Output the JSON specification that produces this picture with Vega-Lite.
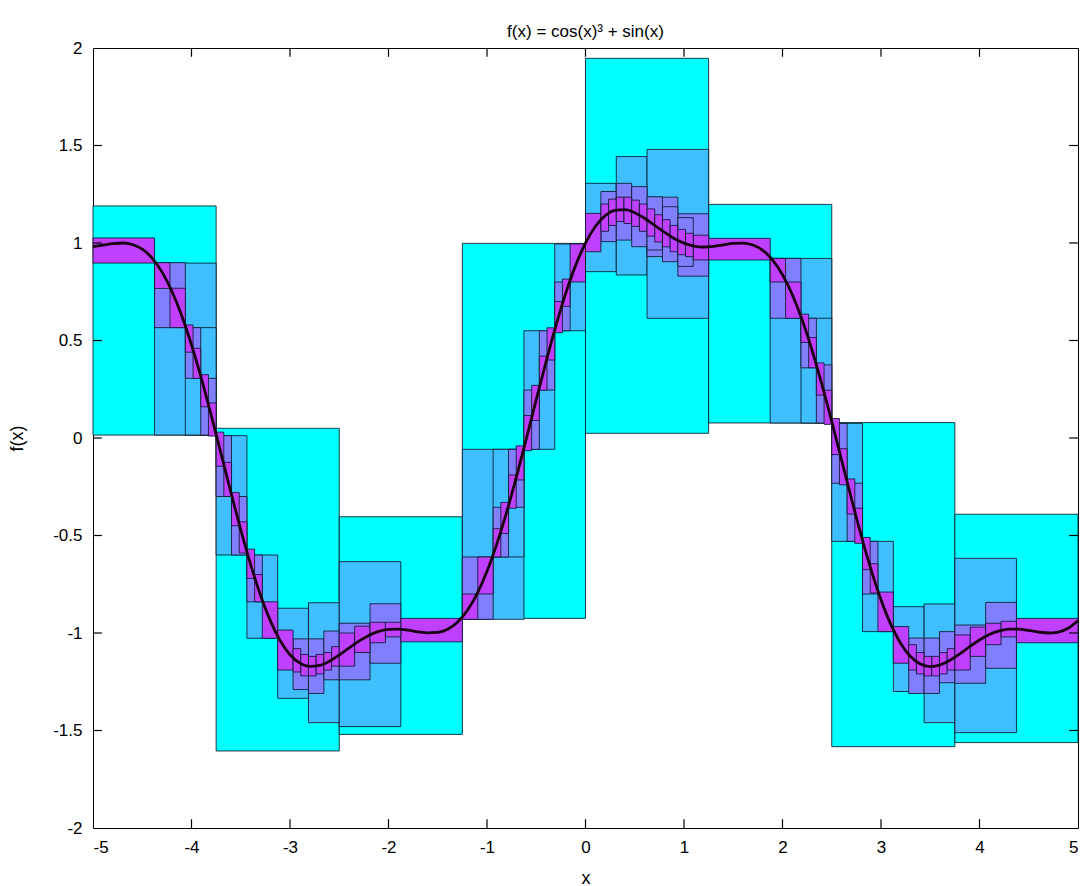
{
  "$schema": "https://vega.github.io/schema/vega-lite/v6.json",
  "width": 985,
  "height": 780,
  "autosize": {"type": "none"},
  "padding": {"left": 93, "top": 48, "right": 10, "bottom": 58},
  "background": "white",
  "title": {"text": "f(x) = cos(x)³ + sin(x)", "fontSize": 17, "fontWeight": "normal", "font": "Liberation Sans", "color": "black", "offset": -2},
  "config": {
    "view": {"stroke": "black", "strokeWidth": 1},
    "axis": {"grid": false, "domain": false, "ticks": false, "labelFont": "Liberation Sans", "titleFont": "Liberation Sans", "labelFontSize": 17, "titleFontSize": 18, "titleFontWeight": "normal", "labelColor": "black", "titleColor": "black", "tickSize": 8, "offset": -8}
  },
  "datasets": {
    "xticks": [{"t": -4}, {"t": -3}, {"t": -2}, {"t": -1}, {"t": 0}, {"t": 1}, {"t": 2}, {"t": 3}, {"t": 4}],
    "yticks": [{"t": -1.5}, {"t": -1}, {"t": -0.5}, {"t": 0}, {"t": 0.5}, {"t": 1}, {"t": 1.5}],
    "boxes": [
      {"x1": -5, "x2": -3.75, "y1": 0.015, "y2": 1.19, "c": "1"},
      {"x1": -3.75, "x2": -2.5, "y1": -1.605, "y2": 0.05, "c": "1"},
      {"x1": -2.5, "x2": -1.25, "y1": -1.52, "y2": -0.404, "c": "1"},
      {"x1": -1.25, "x2": 0, "y1": -0.925, "y2": 0.998, "c": "1"},
      {"x1": 0, "x2": 1.25, "y1": 0.024, "y2": 1.947, "c": "1"},
      {"x1": 1.25, "x2": 2.5, "y1": 0.077, "y2": 1.198, "c": "1"},
      {"x1": 2.5, "x2": 3.75, "y1": -1.583, "y2": 0.079, "c": "1"},
      {"x1": 3.75, "x2": 5, "y1": -1.562, "y2": -0.391, "c": "1"},

      {"x1": -4.375, "x2": -3.75, "y1": 0.015, "y2": 0.897, "c": "2"},
      {"x1": -4.0625, "x2": -3.75, "y1": 0.015, "y2": 0.566, "c": "2"},
      {"x1": -3.75, "x2": -3.4375, "y1": -0.6, "y2": 0.012, "c": "2"},
      {"x1": -3.4375, "x2": -3.125, "y1": -1.027, "y2": -0.6, "c": "2"},
      {"x1": -3.125, "x2": -2.8125, "y1": -1.335, "y2": -0.873, "c": "2"},
      {"x1": -2.8125, "x2": -2.5, "y1": -1.46, "y2": -0.845, "c": "2"},
      {"x1": -2.5, "x2": -1.875, "y1": -1.48, "y2": -0.634, "c": "2"},
      {"x1": -1.25, "x2": -0.625, "y1": -0.93, "y2": -0.058, "c": "2"},
      {"x1": -0.9375, "x2": -0.625, "y1": -0.61, "y2": -0.058, "c": "2"},
      {"x1": -0.625, "x2": -0.3125, "y1": -0.058, "y2": 0.55, "c": "2"},
      {"x1": -0.3125, "x2": 0, "y1": 0.55, "y2": 0.995, "c": "2"},
      {"x1": 0, "x2": 0.3125, "y1": 0.853, "y2": 1.306, "c": "2"},
      {"x1": 0.3125, "x2": 0.625, "y1": 0.836, "y2": 1.443, "c": "2"},
      {"x1": 0.625, "x2": 1.25, "y1": 0.614, "y2": 1.48, "c": "2"},
      {"x1": 1.875, "x2": 2.5, "y1": 0.077, "y2": 0.921, "c": "2"},
      {"x1": 2.1875, "x2": 2.5, "y1": 0.077, "y2": 0.614, "c": "2"},
      {"x1": 2.5, "x2": 2.8125, "y1": -0.53, "y2": 0.075, "c": "2"},
      {"x1": 2.8125, "x2": 3.125, "y1": -0.993, "y2": -0.53, "c": "2"},
      {"x1": 3.125, "x2": 3.4375, "y1": -1.3, "y2": -0.865, "c": "2"},
      {"x1": 3.4375, "x2": 3.75, "y1": -1.46, "y2": -0.851, "c": "2"},
      {"x1": 3.75, "x2": 4.375, "y1": -1.511, "y2": -0.617, "c": "2"},

      {"x1": -4.375, "x2": -4.0625, "y1": 0.566, "y2": 0.899, "c": "3"},
      {"x1": -4.0625, "x2": -3.90625, "y1": 0.306, "y2": 0.566, "c": "3"},
      {"x1": -3.90625, "x2": -3.75, "y1": 0.015, "y2": 0.306, "c": "3"},
      {"x1": -3.75, "x2": -3.59375, "y1": -0.3, "y2": 0.012, "c": "3"},
      {"x1": -3.59375, "x2": -3.4375, "y1": -0.6, "y2": -0.3, "c": "3"},
      {"x1": -3.4375, "x2": -3.28125, "y1": -0.84, "y2": -0.6, "c": "3"},
      {"x1": -2.96875, "x2": -2.8125, "y1": -1.29, "y2": -1.03, "c": "3"},
      {"x1": -2.8125, "x2": -2.65625, "y1": -1.31, "y2": -1.03, "c": "3"},
      {"x1": -2.65625, "x2": -2.5, "y1": -1.24, "y2": -0.99, "c": "3"},
      {"x1": -2.5, "x2": -2.1875, "y1": -1.24, "y2": -0.95, "c": "3"},
      {"x1": -2.1875, "x2": -1.875, "y1": -1.155, "y2": -0.85, "c": "3"},
      {"x1": -1.25, "x2": -0.9375, "y1": -0.93, "y2": -0.61, "c": "3"},
      {"x1": -0.9375, "x2": -0.78125, "y1": -0.61, "y2": -0.355, "c": "3"},
      {"x1": -0.78125, "x2": -0.625, "y1": -0.355, "y2": -0.058, "c": "3"},
      {"x1": -0.625, "x2": -0.46875, "y1": -0.058, "y2": 0.246, "c": "3"},
      {"x1": -0.46875, "x2": -0.3125, "y1": 0.246, "y2": 0.55, "c": "3"},
      {"x1": -0.3125, "x2": -0.15625, "y1": 0.55, "y2": 0.8, "c": "3"},
      {"x1": 0.625, "x2": 0.9375, "y1": 0.93, "y2": 1.235, "c": "3"},
      {"x1": 0.9375, "x2": 1.25, "y1": 0.83, "y2": 1.15, "c": "3"},
      {"x1": 0.15625, "x2": 0.3125, "y1": 1.007, "y2": 1.264, "c": "3"},
      {"x1": 0.3125, "x2": 0.46875, "y1": 1.015, "y2": 1.306, "c": "3"},
      {"x1": 0.46875, "x2": 0.625, "y1": 0.981, "y2": 1.289, "c": "3"},
      {"x1": 0.625, "x2": 0.78125, "y1": 0.964, "y2": 1.237, "c": "3"},
      {"x1": 0.78125, "x2": 0.9375, "y1": 0.904, "y2": 1.186, "c": "3"},
      {"x1": 0.9375, "x2": 1.09375, "y1": 0.88, "y2": 1.13, "c": "3"},
      {"x1": 1.875, "x2": 2.1875, "y1": 0.614, "y2": 0.921, "c": "3"},
      {"x1": 2.1875, "x2": 2.34375, "y1": 0.36, "y2": 0.614, "c": "3"},
      {"x1": 2.34375, "x2": 2.5, "y1": 0.077, "y2": 0.375, "c": "3"},
      {"x1": 2.5, "x2": 2.65625, "y1": -0.232, "y2": 0.075, "c": "3"},
      {"x1": 2.65625, "x2": 2.8125, "y1": -0.53, "y2": -0.232, "c": "3"},
      {"x1": 2.8125, "x2": 2.96875, "y1": -0.8, "y2": -0.53, "c": "3"},
      {"x1": 3.28125, "x2": 3.4375, "y1": -1.31, "y2": -1.026, "c": "3"},
      {"x1": 3.4375, "x2": 3.59375, "y1": -1.31, "y2": -1.026, "c": "3"},
      {"x1": 3.59375, "x2": 3.75, "y1": -1.255, "y2": -0.993, "c": "3"},
      {"x1": 3.75, "x2": 4.0625, "y1": -1.258, "y2": -0.959, "c": "3"},
      {"x1": 4.0625, "x2": 4.375, "y1": -1.181, "y2": -0.843, "c": "3"},

      {"x1": -5, "x2": -4.375, "y1": 0.897, "y2": 1.026, "c": "4"},
      {"x1": -4.375, "x2": -4.21875, "y1": 0.767, "y2": 0.899, "c": "4"},
      {"x1": -4.21875, "x2": -4.0625, "y1": 0.566, "y2": 0.768, "c": "4"},
      {"x1": -4.0625, "x2": -3.984375, "y1": 0.44, "y2": 0.58, "c": "4"},
      {"x1": -3.984375, "x2": -3.90625, "y1": 0.305, "y2": 0.46, "c": "4"},
      {"x1": -3.90625, "x2": -3.828125, "y1": 0.16, "y2": 0.325, "c": "4"},
      {"x1": -3.828125, "x2": -3.75, "y1": 0.01, "y2": 0.18, "c": "4"},
      {"x1": -3.28125, "x2": -3.125, "y1": -1.027, "y2": -0.84, "c": "4"},
      {"x1": -3.125, "x2": -2.96875, "y1": -1.19, "y2": -0.985, "c": "4"},
      {"x1": -3.75, "x2": -3.671875, "y1": -0.145, "y2": 0.03, "c": "4"},
      {"x1": -3.671875, "x2": -3.59375, "y1": -0.3, "y2": -0.125, "c": "4"},
      {"x1": -3.59375, "x2": -3.515625, "y1": -0.45, "y2": -0.28, "c": "4"},
      {"x1": -3.515625, "x2": -3.4375, "y1": -0.59, "y2": -0.43, "c": "4"},
      {"x1": -3.4375, "x2": -3.359375, "y1": -0.72, "y2": -0.57, "c": "4"},
      {"x1": -3.359375, "x2": -3.28125, "y1": -0.84, "y2": -0.7, "c": "4"},
      {"x1": -2.96875, "x2": -2.890625, "y1": -1.2, "y2": -1.08, "c": "4"},
      {"x1": -2.890625, "x2": -2.8125, "y1": -1.22, "y2": -1.11, "c": "4"},
      {"x1": -2.8125, "x2": -2.734375, "y1": -1.22, "y2": -1.12, "c": "4"},
      {"x1": -2.734375, "x2": -2.65625, "y1": -1.21, "y2": -1.11, "c": "4"},
      {"x1": -2.65625, "x2": -2.578125, "y1": -1.19, "y2": -1.1, "c": "4"},
      {"x1": -2.578125, "x2": -2.5, "y1": -1.17, "y2": -1.07, "c": "4"},
      {"x1": -1.875, "x2": -1.25, "y1": -1.045, "y2": -0.925, "c": "4"},
      {"x1": -2.5, "x2": -2.34375, "y1": -1.17, "y2": -1.0, "c": "4"},
      {"x1": -2.34375, "x2": -2.1875, "y1": -1.1, "y2": -0.965, "c": "4"},
      {"x1": -2.1875, "x2": -2.03125, "y1": -1.05, "y2": -0.945, "c": "4"},
      {"x1": -2.03125, "x2": -1.875, "y1": -1.02, "y2": -0.945, "c": "4"},
      {"x1": -1.25, "x2": -1.09375, "y1": -0.93, "y2": -0.8, "c": "4"},
      {"x1": -1.09375, "x2": -0.9375, "y1": -0.8, "y2": -0.61, "c": "4"},
      {"x1": -0.15625, "x2": 0, "y1": 0.8, "y2": 0.995, "c": "4"},
      {"x1": -0.9375, "x2": -0.859375, "y1": -0.61, "y2": -0.465, "c": "4"},
      {"x1": -0.859375, "x2": -0.78125, "y1": -0.49, "y2": -0.33, "c": "4"},
      {"x1": -0.78125, "x2": -0.703125, "y1": -0.36, "y2": -0.19, "c": "4"},
      {"x1": -0.703125, "x2": -0.625, "y1": -0.215, "y2": -0.04, "c": "4"},
      {"x1": -0.625, "x2": -0.546875, "y1": -0.065, "y2": 0.115, "c": "4"},
      {"x1": -0.546875, "x2": -0.46875, "y1": 0.09, "y2": 0.27, "c": "4"},
      {"x1": -0.46875, "x2": -0.390625, "y1": 0.245, "y2": 0.42, "c": "4"},
      {"x1": -0.390625, "x2": -0.3125, "y1": 0.4, "y2": 0.565, "c": "4"},
      {"x1": -0.3125, "x2": -0.234375, "y1": 0.54, "y2": 0.7, "c": "4"},
      {"x1": -0.234375, "x2": -0.15625, "y1": 0.675, "y2": 0.815, "c": "4"},
      {"x1": 0, "x2": 0.15625, "y1": 0.955, "y2": 1.152, "c": "4"},
      {"x1": 1.09375, "x2": 1.25, "y1": 0.913, "y2": 1.04, "c": "4"},
      {"x1": 0.15625, "x2": 0.234375, "y1": 1.06, "y2": 1.2, "c": "4"},
      {"x1": 0.234375, "x2": 0.3125, "y1": 1.09, "y2": 1.225, "c": "4"},
      {"x1": 0.3125, "x2": 0.390625, "y1": 1.11, "y2": 1.235, "c": "4"},
      {"x1": 0.390625, "x2": 0.46875, "y1": 1.1, "y2": 1.235, "c": "4"},
      {"x1": 0.46875, "x2": 0.546875, "y1": 1.085, "y2": 1.22, "c": "4"},
      {"x1": 0.546875, "x2": 0.625, "y1": 1.06, "y2": 1.2, "c": "4"},
      {"x1": 0.625, "x2": 0.703125, "y1": 1.035, "y2": 1.175, "c": "4"},
      {"x1": 0.703125, "x2": 0.78125, "y1": 1.005, "y2": 1.145, "c": "4"},
      {"x1": 0.78125, "x2": 0.859375, "y1": 0.98, "y2": 1.12, "c": "4"},
      {"x1": 0.859375, "x2": 0.9375, "y1": 0.955, "y2": 1.09, "c": "4"},
      {"x1": 0.9375, "x2": 1.015625, "y1": 0.94, "y2": 1.07, "c": "4"},
      {"x1": 1.015625, "x2": 1.09375, "y1": 0.93, "y2": 1.05, "c": "4"},
      {"x1": 1.25, "x2": 1.875, "y1": 0.913, "y2": 1.024, "c": "4"},
      {"x1": 1.875, "x2": 2.03125, "y1": 0.8, "y2": 0.921, "c": "4"},
      {"x1": 2.03125, "x2": 2.1875, "y1": 0.614, "y2": 0.8, "c": "4"},
      {"x1": 2.1875, "x2": 2.265625, "y1": 0.49, "y2": 0.635, "c": "4"},
      {"x1": 2.265625, "x2": 2.34375, "y1": 0.36, "y2": 0.515, "c": "4"},
      {"x1": 2.34375, "x2": 2.421875, "y1": 0.22, "y2": 0.385, "c": "4"},
      {"x1": 2.421875, "x2": 2.5, "y1": 0.07, "y2": 0.245, "c": "4"},
      {"x1": 2.96875, "x2": 3.125, "y1": -0.993, "y2": -0.79, "c": "4"},
      {"x1": 3.125, "x2": 3.28125, "y1": -1.155, "y2": -0.967, "c": "4"},
      {"x1": 2.5, "x2": 2.578125, "y1": -0.085, "y2": 0.1, "c": "4"},
      {"x1": 2.578125, "x2": 2.65625, "y1": -0.24, "y2": -0.055, "c": "4"},
      {"x1": 2.65625, "x2": 2.734375, "y1": -0.39, "y2": -0.21, "c": "4"},
      {"x1": 2.734375, "x2": 2.8125, "y1": -0.54, "y2": -0.36, "c": "4"},
      {"x1": 2.8125, "x2": 2.890625, "y1": -0.675, "y2": -0.51, "c": "4"},
      {"x1": 2.890625, "x2": 2.96875, "y1": -0.795, "y2": -0.645, "c": "4"},
      {"x1": 3.28125, "x2": 3.359375, "y1": -1.19, "y2": -1.06, "c": "4"},
      {"x1": 3.359375, "x2": 3.4375, "y1": -1.21, "y2": -1.1, "c": "4"},
      {"x1": 3.4375, "x2": 3.515625, "y1": -1.22, "y2": -1.12, "c": "4"},
      {"x1": 3.515625, "x2": 3.59375, "y1": -1.22, "y2": -1.12, "c": "4"},
      {"x1": 3.59375, "x2": 3.671875, "y1": -1.21, "y2": -1.1, "c": "4"},
      {"x1": 3.671875, "x2": 3.75, "y1": -1.19, "y2": -1.08, "c": "4"},
      {"x1": 3.75, "x2": 3.90625, "y1": -1.19, "y2": -1.01, "c": "4"},
      {"x1": 3.90625, "x2": 4.0625, "y1": -1.12, "y2": -0.97, "c": "4"},
      {"x1": 4.0625, "x2": 4.21875, "y1": -1.06, "y2": -0.95, "c": "4"},
      {"x1": 4.21875, "x2": 4.375, "y1": -1.02, "y2": -0.94, "c": "4"},
      {"x1": 4.375, "x2": 5, "y1": -1.05, "y2": -0.925, "c": "4"}
    ],
    "curve": [
      {"x": -5.0, "f": 0.9817}, {"x": -4.9, "f": 0.9889}, {"x": -4.8, "f": 0.9968}, {"x": -4.7, "f": 0.9999},
      {"x": -4.6, "f": 0.9923}, {"x": -4.5, "f": 0.9682}, {"x": -4.4, "f": 0.9226}, {"x": -4.3, "f": 0.8518},
      {"x": -4.2, "f": 0.7537}, {"x": -4.1, "f": 0.6283}, {"x": -4.0, "f": 0.4775}, {"x": -3.9, "f": 0.3052},
      {"x": -3.8, "f": 0.117}, {"x": -3.7, "f": -0.0802}, {"x": -3.6, "f": -0.2786}, {"x": -3.5, "f": -0.4705},
      {"x": -3.4, "f": -0.6481}, {"x": -3.3, "f": -0.8052}, {"x": -3.2, "f": -0.9365}, {"x": -3.1, "f": -1.039},
      {"x": -3.0, "f": -1.1114}, {"x": -2.9, "f": -1.1546}, {"x": -2.8, "f": -1.1715}, {"x": -2.7, "f": -1.1663},
      {"x": -2.6, "f": -1.1447}, {"x": -2.5, "f": -1.1127}, {"x": -2.4, "f": -1.0764}, {"x": -2.3, "f": -1.0415},
      {"x": -2.2, "f": -1.0123}, {"x": -2.1, "f": -0.9919}, {"x": -2.0, "f": -0.9814}, {"x": -1.9, "f": -0.9801},
      {"x": -1.8, "f": -0.9856}, {"x": -1.7, "f": -0.9938}, {"x": -1.6, "f": -0.9996}, {"x": -1.5, "f": -0.9971},
      {"x": -1.4, "f": -0.9805}, {"x": -1.3, "f": -0.9444}, {"x": -1.2, "f": -0.8845}, {"x": -1.1, "f": -0.7979},
      {"x": -1.0, "f": -0.6837}, {"x": -0.9, "f": -0.5431}, {"x": -0.8, "f": -0.3792}, {"x": -0.7, "f": -0.1968},
      {"x": -0.6, "f": -0.0024}, {"x": -0.5, "f": 0.1964}, {"x": -0.4, "f": 0.392}, {"x": -0.3, "f": 0.5764},
      {"x": -0.2, "f": 0.7427}, {"x": -0.1, "f": 0.8852}, {"x": 0.0, "f": 1.0}, {"x": 0.1, "f": 1.0849},
      {"x": 0.2, "f": 1.1401}, {"x": 0.3, "f": 1.1674}, {"x": 0.4, "f": 1.1708}, {"x": 0.5, "f": 1.1553},
      {"x": 0.6, "f": 1.1269}, {"x": 0.7, "f": 1.0916}, {"x": 0.8, "f": 1.0556}, {"x": 0.9, "f": 1.0235},
      {"x": 1.0, "f": 0.9992}, {"x": 1.1, "f": 0.9845}, {"x": 1.2, "f": 0.9796}, {"x": 1.3, "f": 0.9827},
      {"x": 1.4, "f": 0.9904}, {"x": 1.5, "f": 0.9978}, {"x": 1.6, "f": 0.9995}, {"x": 1.7, "f": 0.9895},
      {"x": 1.8, "f": 0.9621}, {"x": 1.9, "f": 0.9125}, {"x": 2.0, "f": 0.8372}, {"x": 2.1, "f": 0.7345},
      {"x": 2.2, "f": 0.6047}, {"x": 2.3, "f": 0.4499}, {"x": 2.4, "f": 0.2745}, {"x": 2.5, "f": 0.0843},
      {"x": 2.6, "f": -0.1137}, {"x": 2.7, "f": -0.3116}, {"x": 2.8, "f": -0.5015}, {"x": 2.9, "f": -0.6761},
      {"x": 3.0, "f": -0.8292}, {"x": 3.1, "f": -0.9558}, {"x": 3.2, "f": -1.0533}, {"x": 3.3, "f": -1.1206},
      {"x": 3.4, "f": -1.1592}, {"x": 3.5, "f": -1.172}, {"x": 3.6, "f": -1.1637}, {"x": 3.7, "f": -1.1399},
      {"x": 3.8, "f": -1.1067}, {"x": 3.9, "f": -1.0703}, {"x": 4.0, "f": -1.0361}, {"x": 4.1, "f": -1.0082},
      {"x": 4.2, "f": -0.9894}, {"x": 4.3, "f": -0.9806}, {"x": 4.4, "f": -0.9806}, {"x": 4.5, "f": -0.9869},
      {"x": 4.6, "f": -0.9951}, {"x": 4.7, "f": -0.9999}, {"x": 4.8, "f": -0.9955}, {"x": 4.9, "f": -0.976},
      {"x": 5.0, "f": -0.9361}
    ]
  },
  "layer": [
    {
      "data": {"name": "boxes"},
      "mark": {"type": "rect", "stroke": "#0a1a2a", "strokeWidth": 1, "strokeOpacity": 0.85},
      "encoding": {
        "x": {"field": "x1", "type": "quantitative", "scale": {"domain": [-5, 5], "nice": false, "zero": false},
              "axis": {"orient": "bottom", "values": [-5, -4, -3, -2, -1, 0, 1, 2, 3, 4, 5], "labelPadding": 19, "title": "x", "titlePadding": 14, "labelExpr": "'' + datum.value"}},
        "x2": {"field": "x2"},
        "y": {"field": "y1", "type": "quantitative", "scale": {"domain": [-2, 2], "nice": false, "zero": false},
              "axis": {"orient": "left", "values": [-2, -1.5, -1, -0.5, 0, 0.5, 1, 1.5, 2], "labelPadding": 19, "title": "f(x)", "titlePadding": 26, "labelExpr": "'' + datum.value"}},
        "y2": {"field": "y2"},
        "color": {"field": "c", "type": "nominal", "legend": null,
                  "scale": {"domain": ["1", "2", "3", "4"], "range": ["#00FFFF", "#40BFFF", "#8080FF", "#BF40FF"]}}
      }
    },
    {
      "data": {"name": "curve"},
      "mark": {"type": "line", "color": "#1a0010", "strokeWidth": 2.8, "interpolate": "monotone"},
      "encoding": {
        "x": {"field": "x", "type": "quantitative", "axis": null},
        "y": {"field": "f", "type": "quantitative", "axis": null}
      }
    },
    {
      "data": {"name": "xticks"},
      "mark": {"type": "rule", "color": "#000000", "strokeWidth": 1.2},
      "encoding": {
        "x": {"field": "t", "type": "quantitative", "axis": null},
        "y": {"datum": -2, "type": "quantitative", "axis": null},
        "y2": {"datum": -1.955}
      }
    },
    {
      "data": {"name": "xticks"},
      "mark": {"type": "rule", "color": "#000000", "strokeWidth": 1.2},
      "encoding": {
        "x": {"field": "t", "type": "quantitative", "axis": null},
        "y": {"datum": 2, "type": "quantitative", "axis": null},
        "y2": {"datum": 1.955}
      }
    },
    {
      "data": {"name": "yticks"},
      "mark": {"type": "rule", "color": "#000000", "strokeWidth": 1.2},
      "encoding": {
        "y": {"field": "t", "type": "quantitative", "axis": null},
        "x": {"datum": -5, "type": "quantitative", "axis": null},
        "x2": {"datum": -4.91}
      }
    },
    {
      "data": {"name": "yticks"},
      "mark": {"type": "rule", "color": "#000000", "strokeWidth": 1.2},
      "encoding": {
        "y": {"field": "t", "type": "quantitative", "axis": null},
        "x": {"datum": 5, "type": "quantitative", "axis": null},
        "x2": {"datum": 4.91}
      }
    }
  ],
  "resolve": {"axis": {"x": "independent", "y": "independent"}}
}
